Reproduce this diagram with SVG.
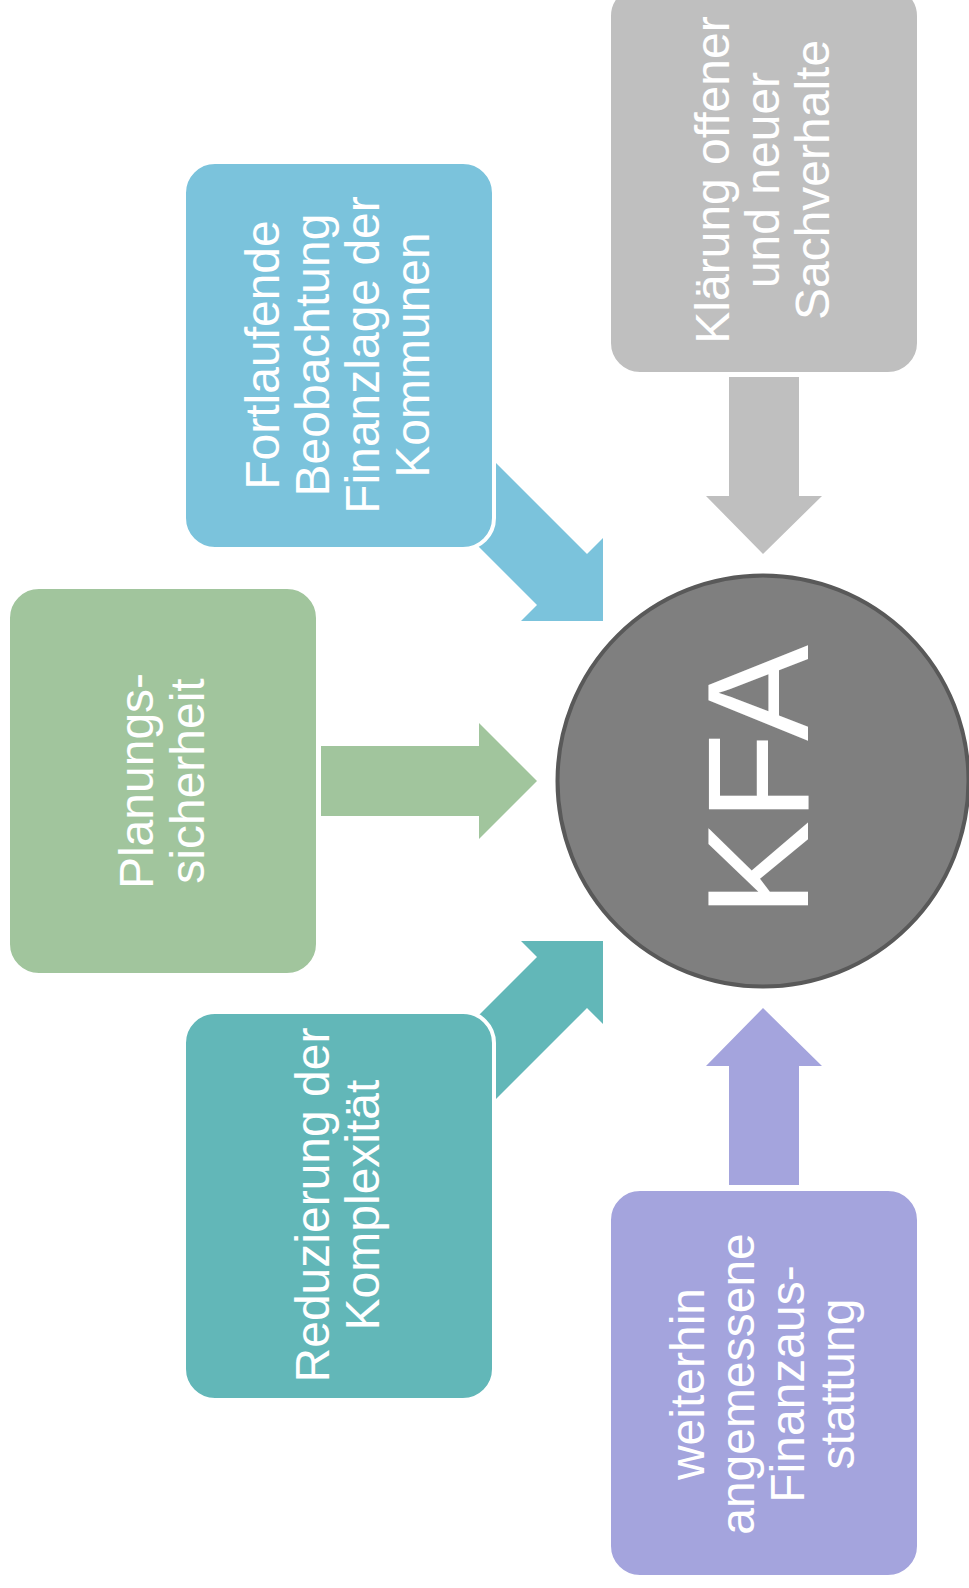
<svg xmlns="http://www.w3.org/2000/svg" width="969" height="1588" viewBox="0 0 969 1588">
<style>
.box{stroke:#FFFFFF;stroke-width:4}
.lbl{font-family:"Liberation Sans",Arial,sans-serif;font-size:48px;fill:#FFFFFF;text-anchor:middle}
.kfa{font-family:"Liberation Sans",Arial,sans-serif;font-size:144px;fill:#FFFFFF;text-anchor:middle}
</style>
<rect width="969" height="1588" fill="#FFFFFF"/>
<g id="connectors">
<polygon points="729,377 799,377 799,496 822,496 763,554 706,496 729,496" fill="#BFBFBF"/>
<polygon points="474,441 587,554 603,538 603,621 521,621 537,605 424,492" fill="#7BC3DC"/>
<polygon points="321,746 479,746 479,723 537,781 479,839 479,816 321,816" fill="#A1C59D"/>
<polygon points="474,1121 587,1008 603,1024 603,941 521,941 537,957 424,1070" fill="#62B7B8"/>
<polygon points="729,1185 799,1185 799,1066 822,1066 763,1008 706,1066 729,1066" fill="#A4A4DD"/>
</g>
<g id="node-klaerung">
<rect class="box" x="609" y="-15" width="310" height="389" rx="31" fill="#BFBFBF"/>
<text class="lbl" transform="translate(729,180) rotate(-90)"><tspan x="0" dy="0">Klärung offener</tspan><tspan x="0" dy="50">und neuer</tspan><tspan x="0" dy="50">Sachverhalte</tspan></text>
</g>
<g id="node-fortlaufende">
<rect class="box" x="184" y="162" width="310" height="387" rx="31" fill="#7BC3DC"/>
<text class="lbl" transform="translate(279,355) rotate(-90)"><tspan x="0" dy="0">Fortlaufende</tspan><tspan x="0" dy="50">Beobachtung</tspan><tspan x="0" dy="50">Finanzlage der</tspan><tspan x="0" dy="49.5">Kommunen</tspan></text>
</g>
<g id="node-planung">
<rect class="box" x="8" y="587" width="310" height="388" rx="31" fill="#A1C59D"/>
<text class="lbl" transform="translate(153,781) rotate(-90)"><tspan x="0" dy="0">Planungs-</tspan><tspan x="0" dy="51">sicherheit</tspan></text>
</g>
<g id="node-reduzierung">
<rect class="box" x="184" y="1012" width="310" height="388" rx="31" fill="#62B7B8"/>
<text class="lbl" transform="translate(329,1205) rotate(-90)"><tspan x="0" dy="0">Reduzierung der</tspan><tspan x="0" dy="50">Komplexität</tspan></text>
</g>
<g id="node-weiterhin">
<rect class="box" x="609" y="1189" width="310" height="388" rx="31" fill="#A4A4DD"/>
<text class="lbl" transform="translate(704,1384) rotate(-90)"><tspan x="0" dy="0">weiterhin</tspan><tspan x="0" dy="50">angemessene</tspan><tspan x="0" dy="50">Finanzaus-</tspan><tspan x="0" dy="50">stattung</tspan></text>
</g>
<g id="node-kfa">
<circle cx="763" cy="781" r="205.5" fill="#7F7F7F" stroke="#595959" stroke-width="4"/>
<text class="kfa" transform="translate(808,781) rotate(-90)">KFA</text>
</g>
</svg>
